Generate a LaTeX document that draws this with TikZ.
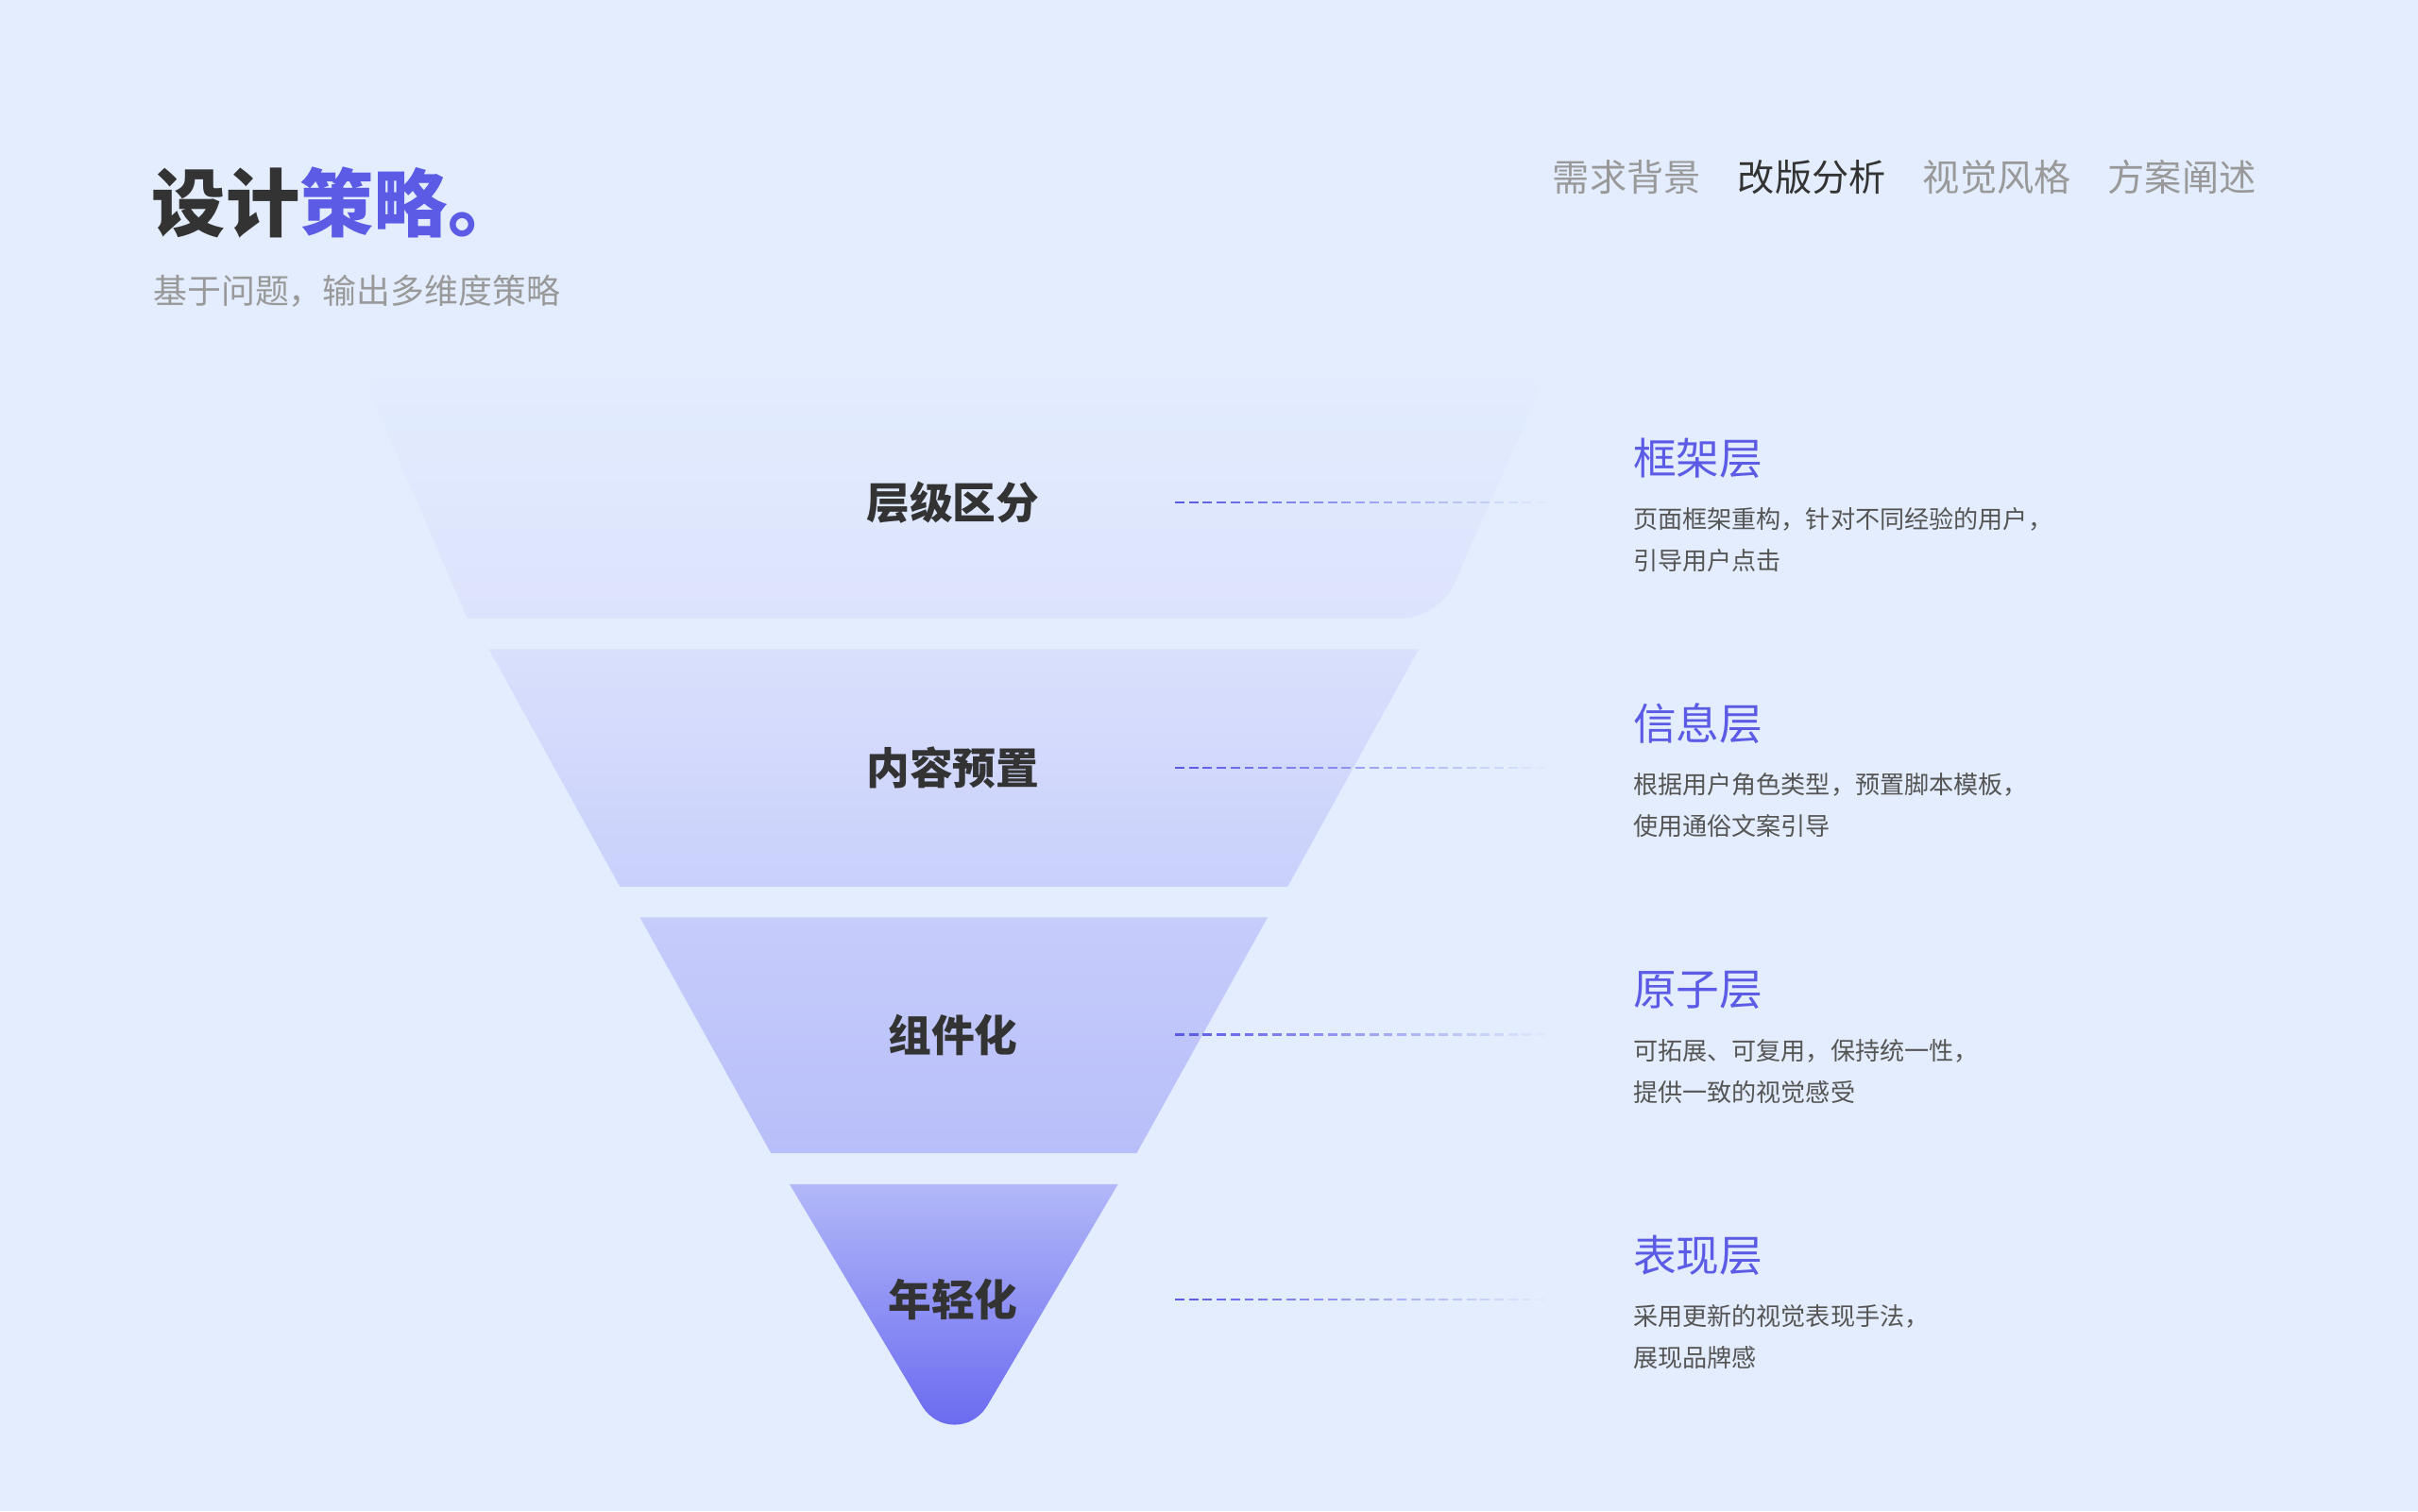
\documentclass[tikz,border=0pt]{standalone}
\usepackage{fontspec}
\setmainfont{Noto Sans CJK SC}
\usetikzlibrary{calc}
\definecolor{bg}{HTML}{E3EDFE}
\definecolor{acc}{HTML}{5B5BE6}
\definecolor{dk}{HTML}{333333}
\definecolor{gr}{HTML}{999999}
\definecolor{ds}{HTML}{555555}
\begin{document}
\begin{tikzpicture}[x=0.5pt,y=-0.5pt,
  lab/.style={font=\fontsize{14}{16}\selectfont\bfseries, text=dk},
  ttl/.style={anchor=west, font=\fontsize{14}{16}\selectfont, text=acc},
  dsc/.style={anchor=north west, align=left, font=\fontsize{8}{13.5}\selectfont, text=ds},
  nav/.style={anchor=east, font=\fontsize{12}{14}\selectfont},
  dl/.style={acc, line width=0.7pt}]
\fill[bg] (0,0) rectangle (1568,980);
\useasboundingbox (0,0) rectangle (1568,980);
% header
\node[anchor=base west, font=\fontsize{24}{28}\selectfont\bfseries, inner sep=0] (title) at (98,150) {\textcolor{dk}{设计}\textcolor{acc}{策略。}};
\node[anchor=base west, font=\fontsize{11}{13}\selectfont, text=gr, inner sep=0] (sub) at (99,197) {基于问题，输出多维度策略};
\node[nav, text=gr] (n4) at (1470,115) {方案阐述};
\node[nav, text=gr] (n3) at (1350,115) {视觉风格};
\node[nav, text=dk] (n2) at (1230,115) {改版分析};
\node[nav, text=gr] (n1) at (1110,115) {需求背景};
% funnel
\shade[top color=bg, bottom color={rgb,255:red,220;green,227;blue,252}, rounded corners=12pt]
  (233,238) -- (1005,238) -- (933,401) [sharp corners] -- (303,401) [rounded corners=12pt] -- cycle;
\shade[top color={rgb,255:red,217;green,224;blue,252}, bottom color={rgb,255:red,201;green,208;blue,251}]
  (317,421) -- (920,421) -- (835,575) -- (402,575) -- cycle;
\shade[top color={rgb,255:red,198;green,205;blue,251}, bottom color={rgb,255:red,184;green,190;blue,249}]
  (415,595) -- (822,595) -- (737,748) -- (500,748) -- cycle;
\shade[top color={rgb,255:red,178;green,184;blue,248}, bottom color={rgb,255:red,105;green,105;blue,240}]
  (512,768) -- (725,768) -- (640,912) .. controls (630,928) and (608,928) .. (598,912) -- cycle;
% levels
\foreach \y/\t/\h/\a/\b [count=\i] in {
  326/层级区分/框架层/{页面框架重构，针对不同经验的用户，}/{引导用户点击},
  498/内容预置/信息层/{根据用户角色类型，预置脚本模板，}/{使用通俗文案引导},
  671/组件化/原子层/{可拓展、可复用，保持统一性，}/{提供一致的视觉感受},
  843/年轻化/表现层/{采用更新的视觉表现手法，}/{展现品牌感}}{
  \node[lab] (l\i) at (618,\y) {\t};
  \coordinate (s\i) at (762,\y);
  \coordinate (e\i) at (1005,\y);
  \foreach \k in {0,...,26}{
    \pgfmathsetmacro{\op}{1-\k/27}
    \draw[dl, opacity=\op] ($(s\i)!\k/27!(e\i)$) -- ($(s\i)!\k/27+0.025!(e\i)$);
  }
  \node[ttl] (t\i) at (1052,\y-29) {\h};
  \node[dsc] (d\i) at (1052,\y-4) {\a\\\b};
}
\end{tikzpicture}
\end{document}
